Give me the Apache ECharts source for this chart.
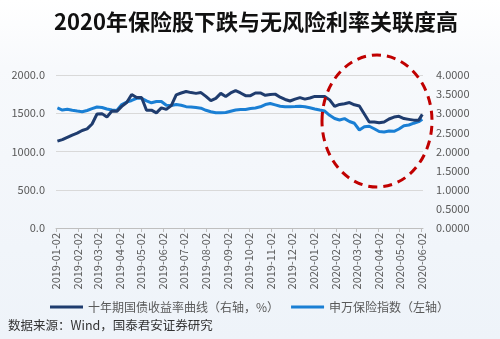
<!DOCTYPE html>
<html>
<head>
<meta charset="utf-8">
<script src="https://cdn.jsdelivr.net/npm/echarts@6/dist/echarts.min.js"></script>
<style>
  html, body { margin: 0; padding: 0; background: #fff; }
  #chart { width: 500px; height: 339px; }
</style>
</head>
<body>
<div id="chart"></div>
<script>
// Weekly observation dates
const dates = [
  '2019-01-04','2019-01-11','2019-01-18','2019-01-25','2019-02-01','2019-02-08','2019-02-15','2019-02-22',
  '2019-03-01','2019-03-08','2019-03-15','2019-03-22','2019-03-29','2019-04-05','2019-04-12','2019-04-19',
  '2019-04-26','2019-05-03','2019-05-10','2019-05-17','2019-05-24','2019-05-31','2019-06-07','2019-06-14',
  '2019-06-21','2019-06-28','2019-07-05','2019-07-12','2019-07-19','2019-07-26','2019-08-02','2019-08-09',
  '2019-08-16','2019-08-23','2019-08-30','2019-09-06','2019-09-13','2019-09-20','2019-09-27','2019-10-04',
  '2019-10-11','2019-10-18','2019-10-25','2019-11-01','2019-11-08','2019-11-15','2019-11-22','2019-11-29',
  '2019-12-06','2019-12-13','2019-12-20','2019-12-27','2020-01-03','2020-01-10','2020-01-17','2020-01-24',
  '2020-01-31','2020-02-07','2020-02-14','2020-02-21','2020-02-28','2020-03-06','2020-03-13','2020-03-20',
  '2020-03-27','2020-04-03','2020-04-10','2020-04-17','2020-04-24','2020-05-01','2020-05-08','2020-05-15',
  '2020-05-22','2020-05-29','2020-06-03'
];

// 十年期国债收益率曲线（右轴，%）
const yieldValues = [
  2.27, 2.31, 2.37, 2.43, 2.48, 2.55, 2.59, 2.72,
  2.98, 2.99, 2.90, 3.06, 3.05, 3.18, 3.28, 3.49,
  3.41, 3.41, 3.08, 3.08, 3.01, 3.14, 3.10, 3.20,
  3.48, 3.53, 3.57, 3.54, 3.52, 3.54, 3.44, 3.33,
  3.39, 3.52, 3.44, 3.53, 3.59, 3.53, 3.46, 3.46,
  3.53, 3.53, 3.47, 3.49, 3.50, 3.42, 3.36, 3.32,
  3.37, 3.41, 3.37, 3.40, 3.44, 3.44, 3.44, 3.35,
  3.18, 3.23, 3.25, 3.28, 3.22, 3.19, 2.98, 2.77,
  2.77, 2.75, 2.77, 2.85, 2.90, 2.92, 2.86, 2.84,
  2.82, 2.82, 2.97
];

// 申万保险指数（左轴）
const indexValues = [
  1569, 1542, 1552, 1539, 1529, 1520, 1536, 1560,
  1582, 1575, 1556, 1542, 1536, 1614, 1647, 1667,
  1695, 1695, 1663, 1637, 1654, 1654, 1604, 1601,
  1614, 1604, 1586, 1582, 1575, 1566, 1539, 1519,
  1507, 1507, 1510, 1526, 1542, 1548, 1549, 1561,
  1569, 1584, 1614, 1627, 1610, 1592, 1586, 1586,
  1588, 1592, 1584, 1571, 1556, 1542, 1529, 1473,
  1431, 1412, 1430, 1392, 1369, 1281, 1323, 1330,
  1297, 1261, 1256, 1268, 1264, 1294, 1336, 1346,
  1370, 1390, 1421
];

// Monthly date ticks on the x axis
const tickLabels = [
  '2019-01-02','2019-02-02','2019-03-02','2019-04-02','2019-05-02','2019-06-02',
  '2019-07-02','2019-08-02','2019-09-02','2019-10-02','2019-11-02','2019-12-02',
  '2020-01-02','2020-02-02','2020-03-02','2020-04-02','2020-05-02','2020-06-02'
];

const seriesNames = ['十年期国债收益率曲线（右轴，%）', '申万保险指数（左轴）'];
const titleText = '2020年保险股下跌与无风险利率关联度高';
const sourceText = '数据来源：Wind，国泰君安证券研究';

// Dates are placed on a numeric (millisecond) axis so the monthly ticks can be set exactly.
function toTime(s) {
  const p = s.split('-').map(Number);
  return new Date(p[0], p[1] - 1, p[2]).getTime();
}
function pad(n) { return (n < 10 ? '0' : '') + n; }
function fmtDate(v) {
  const d = new Date(v);
  return d.getFullYear() + '-' + pad(d.getMonth() + 1) + '-' + pad(d.getDate());
}

const tickTimes = tickLabels.map(toTime);
const font = '"Noto Sans CJK SC", "Noto Sans", sans-serif';

const chart = echarts.init(document.getElementById('chart'));
chart.setOption({
  backgroundColor: {
    type: 'linear', x: 0, y: 0, x2: 0, y2: 1,
    colorStops: [
      { offset: 0, color: '#ffffff' },
      { offset: 0.2, color: '#f7f9fc' },
      { offset: 1, color: '#eef3f9' }
    ]
  },
  animation: false,
  textStyle: { fontFamily: font },
  title: {
    text: titleText,
    left: 49,
    top: 6,
    textStyle: { fontSize: 22, fontWeight: 'bold', color: '#111', fontFamily: font }
  },
  grid: { left: 56, right: 77, top: 75, bottom: 111 },
  legend: {
    left: 45,
    top: 296,
    icon: 'rect',
    itemWidth: 33,
    itemHeight: 3,
    itemGap: 12,
    textStyle: { fontSize: 12, color: '#595959', fontFamily: font },
    data: seriesNames
  },
  xAxis: {
    type: 'value',
    min: toTime('2019-01-02'),
    max: toTime('2020-06-04'),
    axisLine: { show: true, lineStyle: { color: '#bfbfbf' } },
    axisTick: { show: true, customValues: tickTimes, length: 4, lineStyle: { color: '#bfbfbf' } },
    splitLine: { show: false },
    axisLabel: {
      customValues: tickTimes,
      rotate: 90,
      margin: 5,
      fontSize: 11,
      color: '#595959',
      fontFamily: font,
      formatter: fmtDate
    }
  },
  yAxis: [
    {
      type: 'value',
      min: 0, max: 2000, interval: 500,
      axisLine: { show: false },
      axisTick: { show: false },
      splitLine: { lineStyle: { color: '#d9d9d9' } },
      axisLabel: {
        fontSize: 11, color: '#595959', margin: 11, fontFamily: font,
        formatter: v => v.toFixed(1)
      }
    },
    {
      type: 'value',
      min: 0, max: 4, interval: 0.5,
      axisLine: { show: false },
      axisTick: { show: false },
      splitLine: { show: false },
      axisLabel: {
        fontSize: 11, color: '#595959', margin: 13, fontFamily: font,
        formatter: v => v.toFixed(4)
      }
    }
  ],
  series: [
    {
      name: seriesNames[0],
      type: 'line',
      yAxisIndex: 1,
      showSymbol: false,
      data: dates.map((d, i) => [toTime(d), yieldValues[i]]),
      lineStyle: { color: '#1f3c6e', width: 3 },
      itemStyle: { color: '#1f3c6e' },
      z: 3
    },
    {
      name: seriesNames[1],
      type: 'line',
      yAxisIndex: 0,
      showSymbol: false,
      data: dates.map((d, i) => [toTime(d), indexValues[i]]),
      lineStyle: { color: '#1a7fd4', width: 3 },
      itemStyle: { color: '#1a7fd4' },
      z: 2
    }
  ],
  graphic: [
    {
      type: 'ellipse',
      shape: { cx: 377, cy: 121, rx: 55, ry: 66 },
      style: { fill: 'none', stroke: '#c00000', lineWidth: 3, lineDash: [9, 6] },
      z: 100
    },
    {
      type: 'text',
      left: 8,
      top: 319,
      style: { text: sourceText, fontSize: 12.5, fill: '#333333', fontFamily: font }
    }
  ]
});
</script>
</body>
</html>
